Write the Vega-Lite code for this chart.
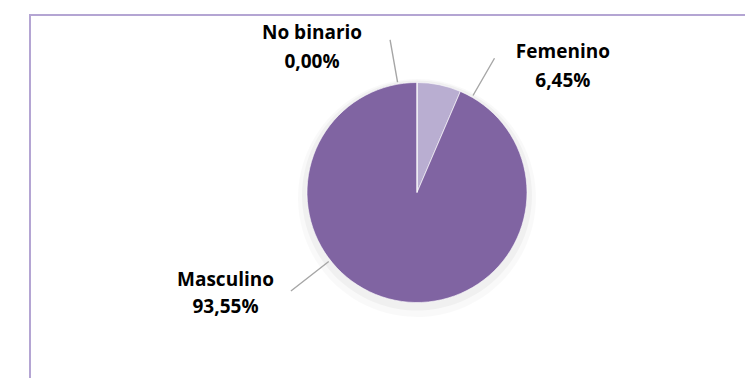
{
  "$schema": "https://vega.github.io/schema/vega-lite/v6.json",
  "width": 774,
  "height": 366,
  "autosize": {"type": "none"},
  "padding": {"left": 30, "top": 15, "right": 0, "bottom": 0},
  "background": "white",
  "view": {"stroke": "#b4a5d3", "strokeWidth": 2},
  "config": {
    "locale": {"number": {"decimal": ",", "thousands": ".", "grouping": [3], "currency": ["", " €"]}}
  },
  "data": {
    "values": [
      {"genero": "Femenino", "frac": 0.0645},
      {"genero": "Masculino", "frac": 0.9355},
      {"genero": "No binario", "frac": 0.0}
    ]
  },
  "transform": [
    {"stack": "frac", "groupby": [], "sort": [{"field": "genero", "order": "ascending"}], "as": ["s0", "s1"]},
    {"calculate": "datum.genero + '\\n' + format(datum.frac, '.2%')", "as": "etiqueta"}
  ],
  "layer": [
    {
      "mark": {"type": "arc", "outerRadius": 119, "yOffset": 0, "opacity": 0.025, "fill": "#000000"},
      "encoding": {
        "theta": {"field": "s0", "type": "quantitative", "scale": {"domain": [0, 1]}},
        "theta2": {"field": "s1"}
      }
    },
    {
      "mark": {"type": "arc", "outerRadius": 115, "yOffset": -2.5, "opacity": 0.035, "fill": "#000000"},
      "encoding": {
        "theta": {"field": "s0", "type": "quantitative"},
        "theta2": {"field": "s1"}
      }
    },
    {
      "mark": {"type": "arc", "outerRadius": 110, "yOffset": -5.5, "stroke": "#ffffff", "strokeWidth": 0.6},
      "encoding": {
        "theta": {"field": "s0", "type": "quantitative"},
        "theta2": {"field": "s1"},
        "color": {
          "field": "genero",
          "type": "nominal",
          "legend": null,
          "scale": {"domain": ["Femenino", "Masculino", "No binario"], "range": ["#b9aed1", "#8064a2", "#4f81bd"]}
        }
      }
    },
    {
      "transform": [{"filter": "datum.genero === 'Femenino'"}],
      "mark": {"type": "arc", "innerRadius": 112, "outerRadius": 155, "thetaOffset": 0.5236, "theta2Offset": 0.5236, "yOffset": -5.5, "fill": null, "stroke": "#a6a6a6", "strokeWidth": 1.4},
      "encoding": {
        "theta": {"field": "s0", "type": "quantitative"},
        "theta2": {"field": "s0"}
      }
    },
    {
      "transform": [{"filter": "datum.genero === 'Masculino'"}],
      "mark": {"type": "arc", "innerRadius": 112, "outerRadius": 160, "thetaOffset": 3.644, "theta2Offset": 3.644, "yOffset": -5.5, "fill": null, "stroke": "#a6a6a6", "strokeWidth": 1.4},
      "encoding": {
        "theta": {"field": "s0", "type": "quantitative"},
        "theta2": {"field": "s0"}
      }
    },
    {
      "transform": [{"filter": "datum.genero === 'No binario'"}],
      "mark": {"type": "arc", "innerRadius": 112, "outerRadius": 155, "thetaOffset": -0.1745, "theta2Offset": -0.1745, "yOffset": -5.5, "fill": null, "stroke": "#a6a6a6", "strokeWidth": 1.4},
      "encoding": {
        "theta": {"field": "s0", "type": "quantitative"},
        "theta2": {"field": "s0"}
      }
    },
    {
      "transform": [{"filter": "datum.genero === 'Femenino'"}],
      "mark": {"type": "text", "radius": 193, "thetaOffset": 0.857, "yOffset": -20, "lineBreak": "\n", "font": "Open Sans", "fontSize": 19, "fontWeight": "bold", "lineHeight": 29, "align": "center", "baseline": "middle", "color": "#000000"},
      "encoding": {
        "theta": {"field": "s0", "type": "quantitative"},
        "text": {"field": "etiqueta"}
      }
    },
    {
      "transform": [{"filter": "datum.genero === 'Masculino'"}],
      "mark": {"type": "text", "radius": 216.7, "thetaOffset": 3.82, "yOffset": -19, "lineBreak": "\n", "font": "Open Sans", "fontSize": 19, "fontWeight": "bold", "lineHeight": 27, "align": "center", "baseline": "middle", "color": "#000000"},
      "encoding": {
        "theta": {"field": "s0", "type": "quantitative"},
        "text": {"field": "etiqueta"}
      }
    },
    {
      "transform": [{"filter": "datum.genero === 'No binario'"}],
      "mark": {"type": "text", "radius": 179.4, "thetaOffset": -0.625, "yOffset": -20, "lineBreak": "\n", "font": "Open Sans", "fontSize": 19, "fontWeight": "bold", "lineHeight": 29, "align": "center", "baseline": "middle", "color": "#000000"},
      "encoding": {
        "theta": {"field": "s0", "type": "quantitative"},
        "text": {"field": "etiqueta"}
      }
    }
  ]
}
